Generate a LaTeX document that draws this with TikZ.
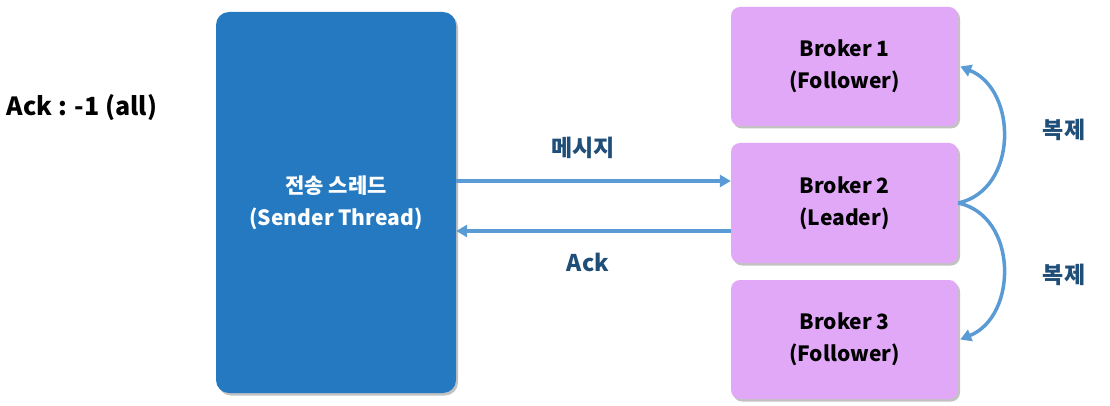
\documentclass[tikz,border=0pt]{standalone}
\usepackage{fontspec}
\setmainfont{Noto Sans CJK KR}
\usetikzlibrary{arrows.meta,shadows,calc}
\definecolor{sendblue}{HTML}{2479C0}
\definecolor{brokerpink}{HTML}{E2A8F8}
\definecolor{arrblue}{HTML}{5B9BD5}
\definecolor{labblue}{HTML}{1F4E79}
\tikzset{
  shadowed/.style={drop shadow={shadow xshift=2pt,shadow yshift=-2.5pt,opacity=0.4,fill=black!60}},
  senderbox/.style={rounded corners=13pt,fill=sendblue,text=white,font=\bfseries\fontsize{21}{32}\selectfont,align=center,minimum width=240pt,minimum height=381pt,inner sep=0pt,shadowed},
  brokerbox/.style={rounded corners=9pt,fill=brokerpink,text=black,font=\bfseries\fontsize{21}{32}\selectfont,align=center,minimum width=227pt,minimum height=119pt,inner sep=0pt,shadowed},
  arr/.style={draw=arrblue,line width=3.5pt,-{Triangle[length=11pt,width=12pt]}},
  lab/.style={text=labblue,font=\bfseries\fontsize{23}{28}\selectfont}
}
\begin{document}
\begin{tikzpicture}[x=1pt,y=-1pt]
\useasboundingbox (0,0) rectangle (1110,406);
\node[font=\bfseries\fontsize{25}{30}\selectfont] (acktitle) at (82,108) {Ack : -1 (all)};
\node[senderbox] (sender) at (336,202.5) {전송 스레드\\(Sender Thread)};
\node[brokerbox] (b1) at (844.5,66.5) {Broker 1\\(Follower)};
\node[brokerbox,minimum height=120pt] (b2) at (844.5,203) {Broker 2\\(Leader)};
\node[brokerbox] (b3) at (844.5,339.5) {Broker 3\\(Follower)};
\draw[arr] ([yshift=21.5pt]sender.east) -- ([yshift=21.5pt]sender.east -| b2.west);
\draw[arr] ([yshift=-28pt]b2.west) -- ([yshift=-28pt]b2.west -| sender.east);
\node[lab] (msg) at (583,148) {메시지};
\node[lab] (acklab) at (588,262) {Ack};
\draw[arr] (b2.east) .. controls (1018,190) and (1018,90) .. ([xshift=2pt]b1.east);
\draw[arr] (b2.east) .. controls (1018,216) and (1018,316) .. ([xshift=2pt]b3.east);
\node[lab] (rep1) at (1064,130) {복제};
\node[lab] (rep2) at (1064,275) {복제};
\end{tikzpicture}
\end{document}
